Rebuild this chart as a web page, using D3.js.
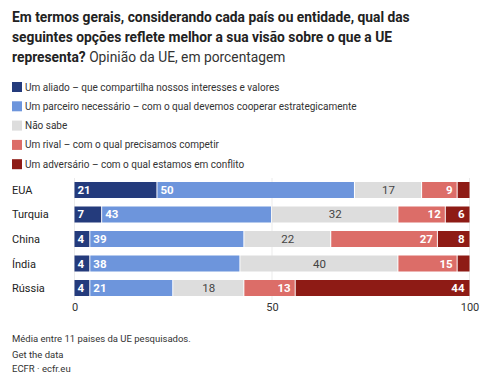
<!DOCTYPE html>
<html>
<head>
<meta charset="utf-8">
<script src="https://cdn.jsdelivr.net/npm/d3@7"></script>
<style>
  body { margin: 0; background: #fff; }
  text { font-family: Roboto, "Noto Sans", sans-serif; }
</style>
</head>
<body>
<svg id="chart"></svg>
<script>
'use strict';

// data
const countries = ["EUA", "Turquia", "China", "Índia", "Rússia"];
const seriesNames = [
  "Um aliado – que compartilha nossos interesses e valores",
  "Um parceiro necessário – com o qual devemos cooperar estrategicamente",
  "Não sabe",
  "Um rival – com o qual precisamos competir",
  "Um adversário – com o qual estamos em conflito"
];
const ally = [21, 7, 4, 4, 4];
const partner = [50, 43, 39, 38, 21];
const dontKnow = [17, 32, 22, 40, 18];
const rival = [9, 12, 27, 15, 13];
const adversary = [3, 6, 8, 3, 44];
const xTicks = [0, 50, 100];

const titleBold = [
  "Em termos gerais, considerando cada país ou entidade, qual das",
  "seguintes opções reflete melhor a sua visão sobre o que a UE",
  "representa?"
];
const titleLight = " Opinião da UE, em porcentagem";
const notes = ["Média entre 11 paises da UE pesquisados.", "Get the data", "ECFR · ecfr.eu"];

const colors = ["#243b7c", "#6d95dc", "#dddddd", "#dc6d68", "#8e1b15"];

function drawChart() {
  let width = 496, height = 390;
  let svg = d3.select("#chart").attr("width", width).attr("height", height);

  // title
  let title = svg.append("text")
    .attr("x", 12).attr("y", 22)
    .style("font-size", "13.8px")
    .style("fill", "#222");
  titleBold.forEach((line, i) => {
    title.append("tspan")
      .attr("x", 12).attr("dy", i === 0 ? 0 : 20)
      .style("font-weight", "bold")
      .text(line);
  });
  title.append("tspan").style("font-weight", "normal").style("fill", "#333").text(titleLight);

  // legend
  let legend = svg.append("g").attr("transform", "translate(12,87)");
  seriesNames.forEach((name, i) => {
    let g = legend.append("g").attr("transform", `translate(0,${i * 19.3})`);
    g.append("rect").attr("x", 0).attr("y", -5).attr("width", 10).attr("height", 10).attr("fill", colors[i]);
    g.append("text").attr("x", 13).attr("y", 3.5).style("font-size", "10px").style("fill", "#333").text(name);
  });

  // stacked data
  let rows = countries.map((c, i) => ({
    country: c,
    values: [ally[i], partner[i], dontKnow[i], rival[i], adversary[i]]
  }));

  let xScale = d3.scaleLinear().domain([0, 100]).range([74.5, 469.5]);
  let yScale = d3.scaleBand().domain(countries).range([182, 296]).paddingInner(0.347).paddingOuter(0);

  // grid
  svg.append("g").selectAll("line").data(xTicks).enter().append("line")
    .attr("x1", d => xScale(d)).attr("x2", d => xScale(d))
    .attr("y1", 178).attr("y2", 300)
    .style("stroke", "#ebebeb").style("stroke-width", 1);

  // axis
  let xAxis = d3.axisBottom(xScale).tickValues(xTicks).tickSize(0).tickPadding(0);
  let ax = svg.append("g").attr("transform", "translate(0,303)").call(xAxis);
  ax.select(".domain").remove();
  ax.selectAll("text").style("font-size", "11px").style("fill", "#333").attr("dy", "0.71em")
    .style("font-family", "Roboto, sans-serif");

  // country labels
  svg.append("g").selectAll("text").data(countries).enter().append("text")
    .attr("x", 12).attr("y", d => yScale(d) + yScale.bandwidth() / 2 + 4)
    .style("font-size", "11px").style("fill", "#222")
    .text(d => d);

  // bars
  rows.forEach(row => {
    let start = 0;
    let g = svg.append("g");
    row.values.forEach((v, k) => {
      let x0 = xScale(start), x1 = xScale(start + v);
      let y = yScale(row.country), h = yScale.bandwidth();
      g.append("rect")
        .attr("x", x0).attr("y", y)
        .attr("width", Math.max(0, x1 - x0 - (k < 4 ? 1 : 0))).attr("height", h)
        .attr("fill", colors[k]);
      if (v >= 4) {
        let t = g.append("text").attr("y", y + h / 2 + 4).style("font-size", "11.5px").text(v);
        if (k < 2) {
          t.attr("x", x0 + 3).style("fill", "#fff").style("font-weight", "bold");
        } else if (k === 2) {
          t.attr("x", (x0 + x1) / 2).attr("text-anchor", "middle").style("fill", "#444");
        } else {
          t.attr("x", x1 - 5).attr("text-anchor", "end").style("fill", "#fff").style("font-weight", "bold");
        }
      }
      start += v;
    });
  });

  // notes
  notes.forEach((n, i) => {
    svg.append("text").attr("x", 12).attr("y", [342, 358, 372][i])
      .style("font-size", "9.5px").style("fill", "#333").text(n);
  });
}

drawChart();
</script>
</body>
</html>
